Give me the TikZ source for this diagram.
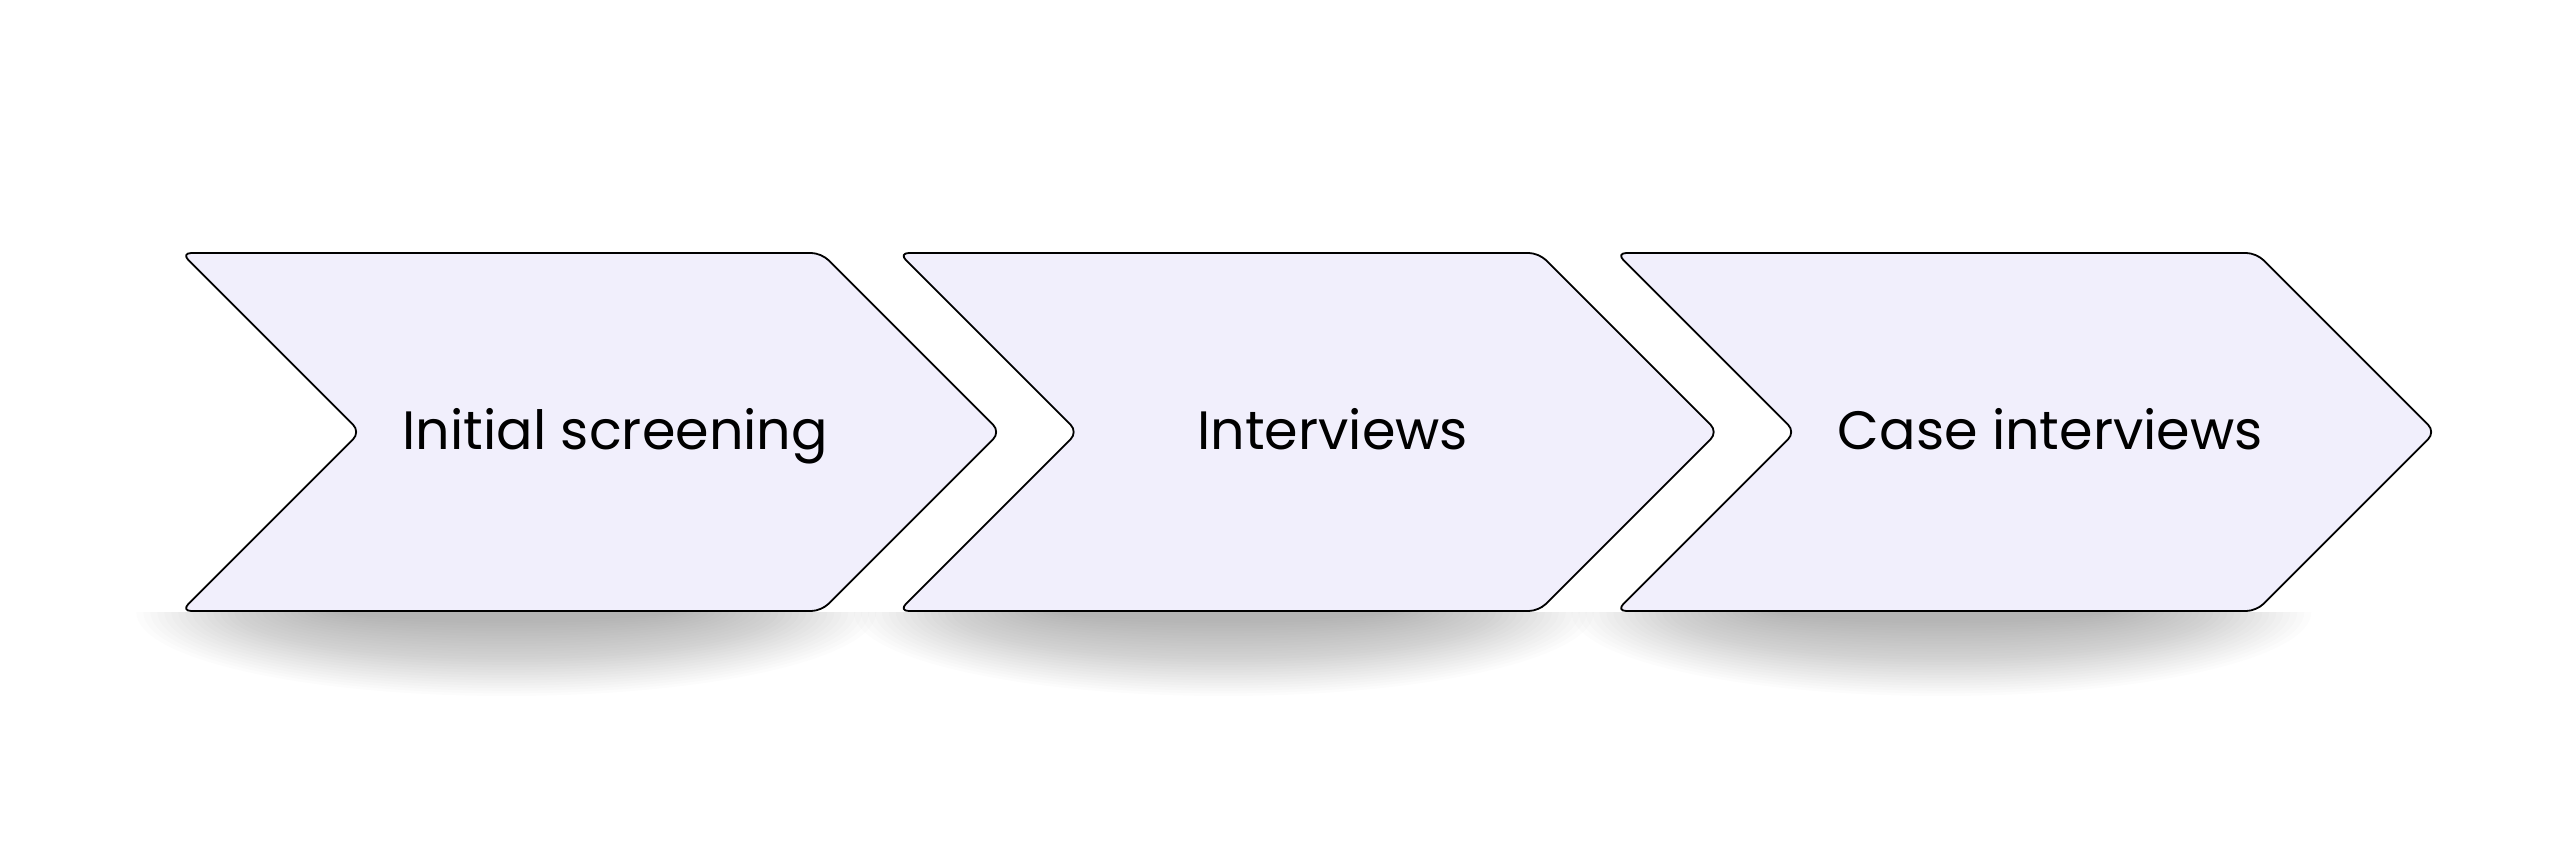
\documentclass[tikz,border=0pt]{standalone}
\usepackage{fontspec}
\setmainfont{Poppins}
\definecolor{chevfill}{HTML}{F1EFFC}
\tikzset{
  chevshape/.style={draw=black, line width=1.8pt, fill=chevfill, rounded corners=10pt},
  chevtext/.style={anchor=base, inner sep=0pt, font=\fontsize{54}{60}\selectfont, text=black},
  chevshadow/.style={fill=black, opacity=0.012}
}
\begin{document}
\begin{tikzpicture}[x=1pt, y=-1pt]
\useasboundingbox (0,0) rectangle (2563,849);
% shadows
\begin{scope}
  \clip (0,612) rectangle (2563,849);
  \foreach \L in {181.3, 898.8, 1616.3} {
    \foreach \t in {1,...,30} {
      \path[chevshadow] (\L+325, 612) ellipse [x radius={(160+7*\t)*1pt}, y radius={(6+2.6*\t)*1pt}];
    }
  }
\end{scope}
% chevrons
\foreach \L/\n in {181.3/a, 898.8/b, 1616.3/c} {
  \draw[chevshape] (\L,253) -- (\L+640,253) -- (\L+819,432) -- (\L+640,611)
     -- (\L,611) -- (\L+179,432) -- cycle;
}
\node[chevtext] (a) at (181.3+434,449) {Initial screening};
\node[chevtext] (b) at (898.8+434,449) {Interviews};
\node[chevtext] (c) at (1616.3+434,449) {Case interviews};
\end{tikzpicture}
\end{document}
